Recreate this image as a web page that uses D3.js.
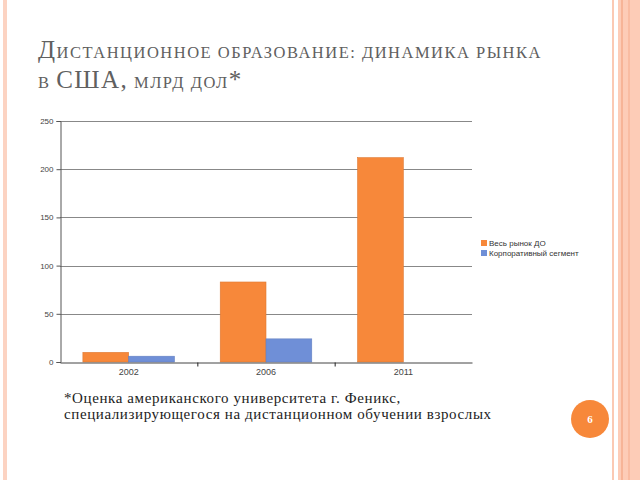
<!DOCTYPE html>
<html>
<head>
<meta charset="utf-8">
<script src="https://cdn.jsdelivr.net/npm/d3@7"></script>
<style>
  body { margin: 0; background: #fff; }
  svg { display: block; }
</style>
</head>
<body>
<svg width="640" height="480"></svg>
<script>
// chart data
const categories = ["2002", "2006", "2011"];
const seriesNames = ["Весь рынок ДО", "Корпоративный сегмент"];
const totalMarket = [10, 83, 212];
const corporate = [6, 24, 0];
const yTicks = [0, 50, 100, 150, 200, 250];
const titleLines = ["Дистанционное образование: динамика рынка", "в США, млрд дол*"];
const noteLines = ["*Оценка американского университета г. Феникс,",
                   "специализирующегося на дистанционном обучении взрослых"];
const slideNumber = "6";

let svg = d3.select("svg");

// slide decoration stripes
svg.append("rect").attr("x", 3).attr("y", 0).attr("width", 4).attr("height", 480).attr("fill", "#fcd3c2");
svg.append("rect").attr("x", 612).attr("y", 0).attr("width", 2).attr("height", 480).attr("fill", "#fbc9b3");
svg.append("rect").attr("x", 618).attr("y", 0).attr("width", 22).attr("height", 480).attr("fill", "#fdccb7");
svg.append("rect").attr("x", 621).attr("y", 0).attr("width", 2).attr("height", 480).attr("fill", "#f7b497");
svg.append("rect").attr("x", 628).attr("y", 0).attr("width", 2).attr("height", 480).attr("fill", "#f9bca2");

// title in small caps, built by hand
let title = svg.append("text")
    .attr("font-family", "Liberation Serif, serif")
    .attr("letter-spacing", 1.5)
    .attr("fill", "#606060");
titleLines.forEach(function (line, i) {
    let parts = line.match(/([А-ЯЁA-Z*,]+|[^А-ЯЁA-Z*,]+)/g);
    parts.forEach(function (p, j) {
        let big = /[А-ЯЁA-Z*,]/.test(p[0]);
        let t = title.append("tspan").text(big ? p : p.toUpperCase())
            .attr("font-size", big ? 25 : 16.5);
        if (j === 0) t.attr("x", 38).attr("y", 58 + i * 30);
    });
});

// chart
let margin = {top: 121, left: 60},
    width = 412,
    height = 241,
    g = svg.append("g").attr("transform", "translate(" + margin.left + "," + margin.top + ")");

let x0 = d3.scaleBand().domain(categories).range([0, width]).paddingInner(0).paddingOuter(0);
let x1 = d3.scaleBand().domain(seriesNames).range([0, x0.bandwidth()]).paddingOuter(0.5).paddingInner(0);
let y = d3.scaleLinear().domain([0, 250]).range([height, 0]);
let z = d3.scaleOrdinal().domain(seriesNames).range(["#f7883a", "#6f8fd7"]);

// gridlines
g.append("g")
    .selectAll("line")
    .data(yTicks.slice(1))
    .enter().append("line")
    .attr("x1", 0).attr("x2", width)
    .attr("y1", d => Math.round(y(d)) + 0.5)
    .attr("y2", d => Math.round(y(d)) + 0.5)
    .attr("stroke", "#888");

let rows = categories.map((c, i) => ({cat: c, values: [totalMarket[i], corporate[i]]}));

g.append("g")
    .selectAll("g")
    .data(rows)
    .enter().append("g")
    .attr("transform", d => "translate(" + x0(d.cat) + ",0)")
    .selectAll("rect")
    .data(d => d.values.map((v, k) => ({key: seriesNames[k], value: v})))
    .enter().append("rect")
    .attr("x", d => x1(d.key))
    .attr("y", d => y(d.value))
    .attr("width", x1.bandwidth())
    .attr("height", d => y(0) - y(d.value))
    .attr("fill", d => z(d.key))
    .attr("stroke", d => d3.color(z(d.key)).darker(0.3))
    .attr("stroke-width", 0.6);

// axes
let yAxis = g.append("g")
    .attr("transform", "translate(0.5,0)")
    .call(d3.axisLeft(y).tickValues(yTicks).tickSize(4).tickPadding(3));
yAxis.select(".domain").attr("stroke", "#555");
yAxis.selectAll(".tick line").attr("stroke", "#555");
yAxis.selectAll("text").attr("font-family", "Liberation Sans, Arial, sans-serif")
    .attr("font-size", 8).attr("fill", "#444");

let xAxis = g.append("g")
    .attr("transform", "translate(0," + (height + 0.5) + ")")
    .call(d3.axisBottom(x0).tickSize(0).tickPadding(6));
xAxis.select(".domain").attr("stroke", "#444");
xAxis.selectAll("text").attr("font-family", "Liberation Sans, Arial, sans-serif")
    .attr("font-size", 9).attr("fill", "#444");
xAxis.append("g")
    .selectAll("line")
    .data(categories.slice(1))
    .enter().append("line")
    .attr("x1", d => x0(d) + 0.5).attr("x2", d => x0(d) + 0.5)
    .attr("y1", 0).attr("y2", 4)
    .attr("stroke", "#222");

// legend
let legend = svg.append("g")
    .attr("font-family", "Liberation Sans, Arial, sans-serif")
    .attr("font-size", 8)
    .selectAll("g")
    .data(seriesNames)
    .enter().append("g")
    .attr("transform", (d, i) => "translate(481," + (240 + i * 10) + ")");
legend.append("rect").attr("width", 6).attr("height", 6).attr("fill", d => z(d));
legend.append("text").attr("x", 8).attr("y", 3).attr("dy", "0.35em").attr("fill", "#333").text(d => d);

// footnote
svg.append("text")
    .attr("font-family", "Liberation Serif, serif")
    .attr("font-size", 15)
    .attr("letter-spacing", 0.6)
    .attr("fill", "#222")
    .selectAll("tspan")
    .data(noteLines)
    .enter().append("tspan")
    .attr("x", 64)
    .attr("y", (d, i) => 403 + i * 16)
    .text(d => d);

// slide number
svg.append("circle").attr("cx", 590).attr("cy", 419).attr("r", 19).attr("fill", "#f7883a");
svg.append("text").attr("x", 590).attr("y", 423)
    .attr("text-anchor", "middle")
    .attr("font-family", "Liberation Serif, serif")
    .attr("font-size", 11).attr("font-weight", "bold")
    .attr("fill", "#fff").text(slideNumber);
</script>
</body>
</html>
